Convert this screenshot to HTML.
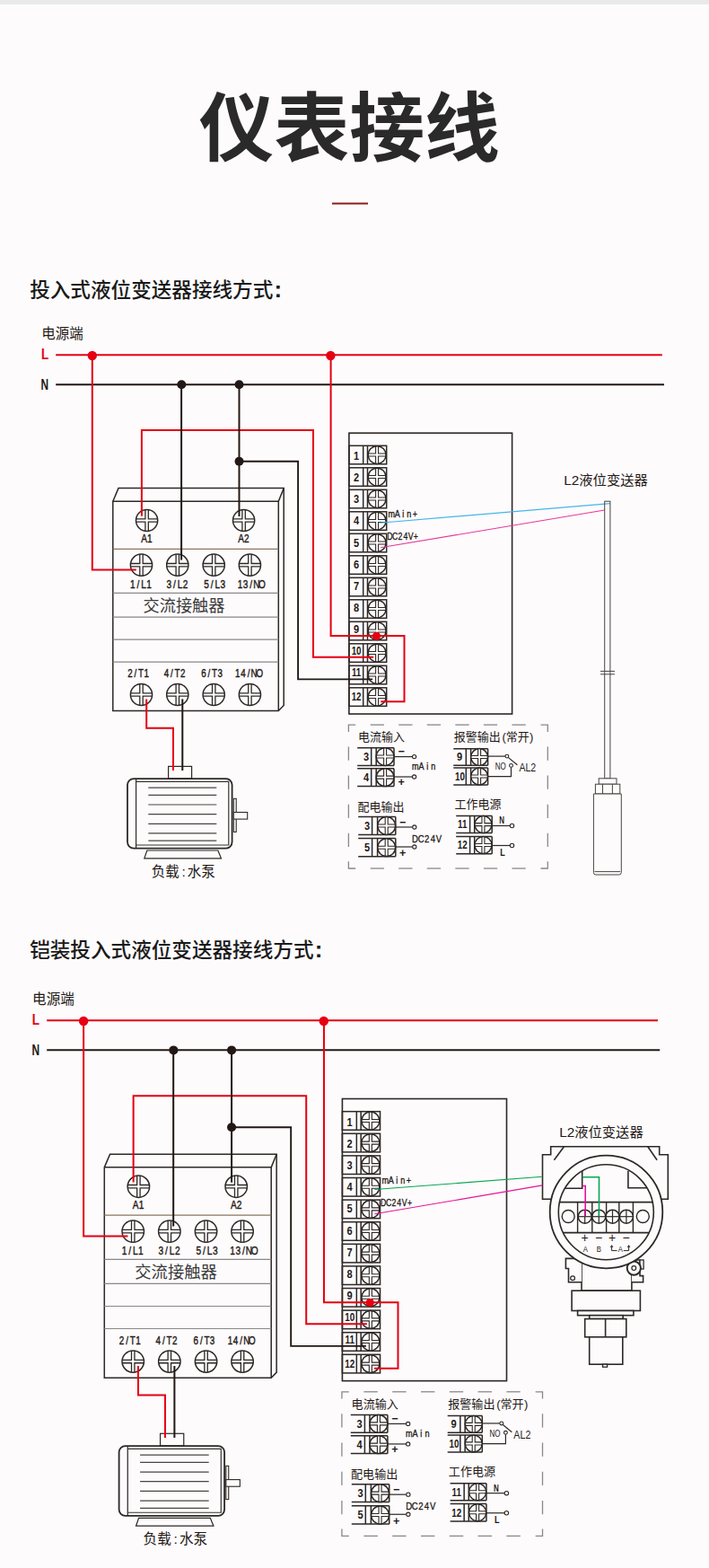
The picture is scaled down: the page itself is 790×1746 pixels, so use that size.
<!DOCTYPE html>
<html lang="zh-CN">
<head>
<meta charset="utf-8">
<title>仪表接线</title>
<style>
html,body{margin:0;padding:0;background:#fdfbfc;}
body{width:790px;height:1746px;overflow:hidden;position:relative;font-family:"Liberation Sans", "Noto Sans CJK SC", sans-serif;}
svg{position:absolute;left:0;top:0;display:block;}
svg text{font-family:"Liberation Sans", "Noto Sans CJK SC", sans-serif;}
</style>
</head>
<body>
<svg width="790" height="1746" viewBox="0 0 790 1746">
<rect x="0" y="0" width="790" height="1746" fill="#fdfbfc"/>
<rect x="0" y="0" width="790" height="4.9" fill="#e9e9e9"/>
<text x="389.2" y="173" font-size="83.8" fill="#2a2a2a" text-anchor="middle" font-weight="bold">仪表接线</text>
<rect x="370" y="225.6" width="40" height="2" fill="#8e1c1c"/>
<text x="33.2" y="330.6" font-size="22.6" fill="#1a1a1a" font-weight="500">投入式液位变送器接线方式<tspan dx="1.2" font-size="26" font-weight="bold">:</tspan></text>
<text x="33.2" y="1065.8" font-size="22.6" fill="#1a1a1a" font-weight="500">铠装投入式液位变送器接线方式<tspan dx="1.2" font-size="26" font-weight="bold">:</tspan></text>
<g id="d1">
<text x="46.2" y="377" font-size="15.5" fill="#231815">电源端</text><text transform="translate(46 399.8) scale(0.84 1)" font-size="16" fill="#e60012" font-weight="bold">L</text><text transform="translate(45.6 433.6) scale(0.74 1)" font-size="16" fill="#231815" font-weight="bold">N</text><line x1="62.2" y1="395.3" x2="737.8" y2="395.3" stroke="#e60012" stroke-width="2"/><line x1="62.2" y1="428.2" x2="740" y2="428.2" stroke="#231815" stroke-width="1.9"/><path d="M125.8 558.2L132 543.6L316.2 543.6L316.2 785.5L310.3 791.6L125.8 791.6Z" fill="#fdfbfc" stroke="#2e2826" stroke-width="1.5"/><path d="M125.8 558.2L310.3 558.2L310.3 791.6" fill="none" stroke="#2e2826" stroke-width="1.5"/><line x1="310.3" y1="558.2" x2="316.2" y2="543.6" stroke="#2e2826" stroke-width="1.5"/><line x1="125.8" y1="611.3" x2="310.3" y2="611.3" stroke="#8a7660" stroke-width="1.2"/><line x1="125.8" y1="660.4" x2="310.3" y2="660.4" stroke="#898989" stroke-width="1.2"/><line x1="125.8" y1="687.1" x2="310.3" y2="687.1" stroke="#898989" stroke-width="1.2"/><line x1="125.8" y1="712.2" x2="310.3" y2="712.2" stroke="#898989" stroke-width="1.2"/><line x1="125.8" y1="737.1" x2="310.3" y2="737.1" stroke="#898989" stroke-width="1.2"/><circle cx="163.6" cy="579.5" r="12.1" fill="#fefdfd" stroke="#2e2826" stroke-width="1.5"/><path d="M165.3 567.52L165.3 577.8L175.58 577.8M165.3 591.48L165.3 581.2L175.58 581.2M161.9 591.48L161.9 581.2L151.62 581.2M161.9 567.52L161.9 577.8L151.62 577.8" fill="none" stroke="#2e2826" stroke-width="1.3"/><circle cx="271.6" cy="579.5" r="12.1" fill="#fefdfd" stroke="#2e2826" stroke-width="1.5"/><path d="M273.3 567.52L273.3 577.8L283.58 577.8M273.3 591.48L273.3 581.2L283.58 581.2M269.9 591.48L269.9 581.2L259.62 581.2M269.9 567.52L269.9 577.8L259.62 577.8" fill="none" stroke="#2e2826" stroke-width="1.3"/><circle cx="157.5" cy="629.2" r="12.1" fill="#fefdfd" stroke="#2e2826" stroke-width="1.5"/><path d="M159.2 617.22L159.2 627.5L169.48 627.5M159.2 641.18L159.2 630.9L169.48 630.9M155.8 641.18L155.8 630.9L145.52 630.9M155.8 617.22L155.8 627.5L145.52 627.5" fill="none" stroke="#2e2826" stroke-width="1.3"/><circle cx="157.5" cy="773.5" r="12.1" fill="#fefdfd" stroke="#2e2826" stroke-width="1.5"/><path d="M159.2 761.52L159.2 771.8L169.48 771.8M159.2 785.48L159.2 775.2L169.48 775.2M155.8 785.48L155.8 775.2L145.52 775.2M155.8 761.52L155.8 771.8L145.52 771.8" fill="none" stroke="#2e2826" stroke-width="1.3"/><circle cx="197.8" cy="629.2" r="12.1" fill="#fefdfd" stroke="#2e2826" stroke-width="1.5"/><path d="M199.5 617.22L199.5 627.5L209.78 627.5M199.5 641.18L199.5 630.9L209.78 630.9M196.1 641.18L196.1 630.9L185.82 630.9M196.1 617.22L196.1 627.5L185.82 627.5" fill="none" stroke="#2e2826" stroke-width="1.3"/><circle cx="197.8" cy="773.5" r="12.1" fill="#fefdfd" stroke="#2e2826" stroke-width="1.5"/><path d="M199.5 761.52L199.5 771.8L209.78 771.8M199.5 785.48L199.5 775.2L209.78 775.2M196.1 785.48L196.1 775.2L185.82 775.2M196.1 761.52L196.1 771.8L185.82 771.8" fill="none" stroke="#2e2826" stroke-width="1.3"/><circle cx="238.2" cy="629.2" r="12.1" fill="#fefdfd" stroke="#2e2826" stroke-width="1.5"/><path d="M239.9 617.22L239.9 627.5L250.18 627.5M239.9 641.18L239.9 630.9L250.18 630.9M236.5 641.18L236.5 630.9L226.22 630.9M236.5 617.22L236.5 627.5L226.22 627.5" fill="none" stroke="#2e2826" stroke-width="1.3"/><circle cx="238.2" cy="773.5" r="12.1" fill="#fefdfd" stroke="#2e2826" stroke-width="1.5"/><path d="M239.9 761.52L239.9 771.8L250.18 771.8M239.9 785.48L239.9 775.2L250.18 775.2M236.5 785.48L236.5 775.2L226.22 775.2M236.5 761.52L236.5 771.8L226.22 771.8" fill="none" stroke="#2e2826" stroke-width="1.3"/><circle cx="278.4" cy="629.2" r="12.1" fill="#fefdfd" stroke="#2e2826" stroke-width="1.5"/><path d="M280.1 617.22L280.1 627.5L290.38 627.5M280.1 641.18L280.1 630.9L290.38 630.9M276.7 641.18L276.7 630.9L266.42 630.9M276.7 617.22L276.7 627.5L266.42 627.5" fill="none" stroke="#2e2826" stroke-width="1.3"/><circle cx="278.4" cy="773.5" r="12.1" fill="#fefdfd" stroke="#2e2826" stroke-width="1.5"/><path d="M280.1 761.52L280.1 771.8L290.38 771.8M280.1 785.48L280.1 775.2L290.38 775.2M276.7 785.48L276.7 775.2L266.42 775.2M276.7 761.52L276.7 771.8L266.42 771.8" fill="none" stroke="#2e2826" stroke-width="1.3"/><text transform="translate(160.5 604.4) scale(0.8 1)" x="0 7.75" y="0" text-anchor="middle" font-size="12.6" fill="#231815" stroke="#231815" stroke-width="0.4">A1</text><text transform="translate(268.7 604.4) scale(0.8 1)" x="0 7.75" y="0" text-anchor="middle" font-size="12.6" fill="#231815" stroke="#231815" stroke-width="0.4">A2</text><text transform="translate(147.85 655.3) scale(0.8 1)" x="0 7.62 15.25 22.87" y="0" text-anchor="middle" font-size="12.6" fill="#231815" stroke="#231815" stroke-width="0.4">1/L1</text><text transform="translate(188.35 655.3) scale(0.8 1)" x="0 7.62 15.25 22.87" y="0" text-anchor="middle" font-size="12.6" fill="#231815" stroke="#231815" stroke-width="0.4">3/L2</text><text transform="translate(230.05 655.3) scale(0.8 1)" x="0 7.62 15.25 22.87" y="0" text-anchor="middle" font-size="12.6" fill="#231815" stroke="#231815" stroke-width="0.4">5/L3</text><text transform="translate(267.5 655.3) scale(0.8 1)" x="0 7.62 15.25 22.87 30.5" y="0" text-anchor="middle" font-size="12.6" fill="#231815" stroke="#231815" stroke-width="0.4">13/NO</text><text transform="translate(144.85 754.4) scale(0.8 1)" x="0 7.62 15.25 22.87" y="0" text-anchor="middle" font-size="12.2" fill="#231815" stroke="#231815" stroke-width="0.4">2/T1</text><text transform="translate(185.35 754.4) scale(0.8 1)" x="0 7.62 15.25 22.87" y="0" text-anchor="middle" font-size="12.2" fill="#231815" stroke="#231815" stroke-width="0.4">4/T2</text><text transform="translate(226.85 754.4) scale(0.8 1)" x="0 7.62 15.25 22.87" y="0" text-anchor="middle" font-size="12.2" fill="#231815" stroke="#231815" stroke-width="0.4">6/T3</text><text transform="translate(264.8 754.4) scale(0.8 1)" x="0 7.62 15.25 22.87 30.5" y="0" text-anchor="middle" font-size="12.2" fill="#231815" stroke="#231815" stroke-width="0.4">14/NO</text><text x="205" y="680.6" font-size="18.2" fill="#3a3a3a" text-anchor="middle" font-family='"Liberation Serif", "Noto Serif CJK SC", serif'>交流接触器</text><rect x="388.9" y="482.2" width="181.7" height="312.8" fill="none" stroke="#2e2826" stroke-width="1.6"/><rect x="388.9" y="496.3" width="41.8" height="20.5" fill="none" stroke="#2e2826" stroke-width="1.5"/><line x1="404.7" y1="496.3" x2="404.7" y2="516.8" stroke="#2e2826" stroke-width="1.5"/><line x1="409.5" y1="496.3" x2="409.5" y2="516.8" stroke="#2e2826" stroke-width="1.5"/><circle cx="420.1" cy="506.55" r="9.9" fill="#fefdfd" stroke="#2e2826" stroke-width="1.5"/><path d="M421.6 496.76L421.6 505.05L429.89 505.05M421.6 516.34L421.6 508.05L429.89 508.05M418.6 516.34L418.6 508.05L410.31 508.05M418.6 496.76L418.6 505.05L410.31 505.05" fill="none" stroke="#2e2826" stroke-width="1.1"/><text transform="translate(397.1 512.1) scale(0.92 1)" font-size="12" fill="#231815" font-weight="bold" text-anchor="middle">1</text><rect x="388.9" y="520.8" width="41.8" height="20.5" fill="none" stroke="#2e2826" stroke-width="1.5"/><line x1="404.7" y1="520.8" x2="404.7" y2="541.3" stroke="#2e2826" stroke-width="1.5"/><line x1="409.5" y1="520.8" x2="409.5" y2="541.3" stroke="#2e2826" stroke-width="1.5"/><circle cx="420.1" cy="531.05" r="9.9" fill="#fefdfd" stroke="#2e2826" stroke-width="1.5"/><path d="M421.6 521.26L421.6 529.55L429.89 529.55M421.6 540.84L421.6 532.55L429.89 532.55M418.6 540.84L418.6 532.55L410.31 532.55M418.6 521.26L418.6 529.55L410.31 529.55" fill="none" stroke="#2e2826" stroke-width="1.1"/><text transform="translate(397.1 536.2) scale(0.92 1)" font-size="12" fill="#231815" font-weight="bold" text-anchor="middle">2</text><rect x="388.9" y="545.3" width="41.8" height="20.5" fill="none" stroke="#2e2826" stroke-width="1.5"/><line x1="404.7" y1="545.3" x2="404.7" y2="565.8" stroke="#2e2826" stroke-width="1.5"/><line x1="409.5" y1="545.3" x2="409.5" y2="565.8" stroke="#2e2826" stroke-width="1.5"/><circle cx="420.1" cy="555.55" r="9.9" fill="#fefdfd" stroke="#2e2826" stroke-width="1.5"/><path d="M421.6 545.76L421.6 554.05L429.89 554.05M421.6 565.34L421.6 557.05L429.89 557.05M418.6 565.34L418.6 557.05L410.31 557.05M418.6 545.76L418.6 554.05L410.31 554.05" fill="none" stroke="#2e2826" stroke-width="1.1"/><text transform="translate(397.1 560.3) scale(0.92 1)" font-size="12" fill="#231815" font-weight="bold" text-anchor="middle">3</text><rect x="388.9" y="569.8" width="41.8" height="20.5" fill="none" stroke="#2e2826" stroke-width="1.5"/><line x1="404.7" y1="569.8" x2="404.7" y2="590.3" stroke="#2e2826" stroke-width="1.5"/><line x1="409.5" y1="569.8" x2="409.5" y2="590.3" stroke="#2e2826" stroke-width="1.5"/><circle cx="420.1" cy="580.05" r="9.9" fill="#fefdfd" stroke="#2e2826" stroke-width="1.5"/><path d="M421.6 570.26L421.6 578.55L429.89 578.55M421.6 589.84L421.6 581.55L429.89 581.55M418.6 589.84L418.6 581.55L410.31 581.55M418.6 570.26L418.6 578.55L410.31 578.55" fill="none" stroke="#2e2826" stroke-width="1.1"/><text transform="translate(397.1 584.4) scale(0.92 1)" font-size="12" fill="#231815" font-weight="bold" text-anchor="middle">4</text><rect x="388.9" y="594.3" width="41.8" height="20.5" fill="none" stroke="#2e2826" stroke-width="1.5"/><line x1="404.7" y1="594.3" x2="404.7" y2="614.8" stroke="#2e2826" stroke-width="1.5"/><line x1="409.5" y1="594.3" x2="409.5" y2="614.8" stroke="#2e2826" stroke-width="1.5"/><circle cx="420.1" cy="604.55" r="9.9" fill="#fefdfd" stroke="#2e2826" stroke-width="1.5"/><path d="M421.6 594.76L421.6 603.05L429.89 603.05M421.6 614.34L421.6 606.05L429.89 606.05M418.6 614.34L418.6 606.05L410.31 606.05M418.6 594.76L418.6 603.05L410.31 603.05" fill="none" stroke="#2e2826" stroke-width="1.1"/><text transform="translate(397.1 608.5) scale(0.92 1)" font-size="12" fill="#231815" font-weight="bold" text-anchor="middle">5</text><rect x="388.9" y="618.8" width="41.8" height="20.5" fill="none" stroke="#2e2826" stroke-width="1.5"/><line x1="404.7" y1="618.8" x2="404.7" y2="639.3" stroke="#2e2826" stroke-width="1.5"/><line x1="409.5" y1="618.8" x2="409.5" y2="639.3" stroke="#2e2826" stroke-width="1.5"/><circle cx="420.1" cy="629.05" r="9.9" fill="#fefdfd" stroke="#2e2826" stroke-width="1.5"/><path d="M421.6 619.26L421.6 627.55L429.89 627.55M421.6 638.84L421.6 630.55L429.89 630.55M418.6 638.84L418.6 630.55L410.31 630.55M418.6 619.26L418.6 627.55L410.31 627.55" fill="none" stroke="#2e2826" stroke-width="1.1"/><text transform="translate(397.1 632.6) scale(0.92 1)" font-size="12" fill="#231815" font-weight="bold" text-anchor="middle">6</text><rect x="388.9" y="643.3" width="41.8" height="20.5" fill="none" stroke="#2e2826" stroke-width="1.5"/><line x1="404.7" y1="643.3" x2="404.7" y2="663.8" stroke="#2e2826" stroke-width="1.5"/><line x1="409.5" y1="643.3" x2="409.5" y2="663.8" stroke="#2e2826" stroke-width="1.5"/><circle cx="420.1" cy="653.55" r="9.9" fill="#fefdfd" stroke="#2e2826" stroke-width="1.5"/><path d="M421.6 643.76L421.6 652.05L429.89 652.05M421.6 663.34L421.6 655.05L429.89 655.05M418.6 663.34L418.6 655.05L410.31 655.05M418.6 643.76L418.6 652.05L410.31 652.05" fill="none" stroke="#2e2826" stroke-width="1.1"/><text transform="translate(397.1 656.7) scale(0.92 1)" font-size="12" fill="#231815" font-weight="bold" text-anchor="middle">7</text><rect x="388.9" y="667.8" width="41.8" height="20.5" fill="none" stroke="#2e2826" stroke-width="1.5"/><line x1="404.7" y1="667.8" x2="404.7" y2="688.3" stroke="#2e2826" stroke-width="1.5"/><line x1="409.5" y1="667.8" x2="409.5" y2="688.3" stroke="#2e2826" stroke-width="1.5"/><circle cx="420.1" cy="678.05" r="9.9" fill="#fefdfd" stroke="#2e2826" stroke-width="1.5"/><path d="M421.6 668.26L421.6 676.55L429.89 676.55M421.6 687.84L421.6 679.55L429.89 679.55M418.6 687.84L418.6 679.55L410.31 679.55M418.6 668.26L418.6 676.55L410.31 676.55" fill="none" stroke="#2e2826" stroke-width="1.1"/><text transform="translate(397.1 680.8) scale(0.92 1)" font-size="12" fill="#231815" font-weight="bold" text-anchor="middle">8</text><rect x="388.9" y="692.3" width="41.8" height="20.5" fill="none" stroke="#2e2826" stroke-width="1.5"/><line x1="404.7" y1="692.3" x2="404.7" y2="712.8" stroke="#2e2826" stroke-width="1.5"/><line x1="409.5" y1="692.3" x2="409.5" y2="712.8" stroke="#2e2826" stroke-width="1.5"/><circle cx="420.1" cy="702.55" r="9.9" fill="#fefdfd" stroke="#2e2826" stroke-width="1.5"/><path d="M421.6 692.76L421.6 701.05L429.89 701.05M421.6 712.34L421.6 704.05L429.89 704.05M418.6 712.34L418.6 704.05L410.31 704.05M418.6 692.76L418.6 701.05L410.31 701.05" fill="none" stroke="#2e2826" stroke-width="1.1"/><text transform="translate(397.1 704.9) scale(0.92 1)" font-size="12" fill="#231815" font-weight="bold" text-anchor="middle">9</text><rect x="388.9" y="716.8" width="41.8" height="20.5" fill="none" stroke="#2e2826" stroke-width="1.5"/><line x1="404.7" y1="716.8" x2="404.7" y2="737.3" stroke="#2e2826" stroke-width="1.5"/><line x1="409.5" y1="716.8" x2="409.5" y2="737.3" stroke="#2e2826" stroke-width="1.5"/><circle cx="420.1" cy="727.05" r="9.9" fill="#fefdfd" stroke="#2e2826" stroke-width="1.5"/><path d="M421.6 717.26L421.6 725.55L429.89 725.55M421.6 736.84L421.6 728.55L429.89 728.55M418.6 736.84L418.6 728.55L410.31 728.55M418.6 717.26L418.6 725.55L410.31 725.55" fill="none" stroke="#2e2826" stroke-width="1.1"/><text transform="translate(397.1 729) scale(0.82 1)" font-size="12" fill="#231815" font-weight="bold" text-anchor="middle">10</text><rect x="388.9" y="741.3" width="41.8" height="20.5" fill="none" stroke="#2e2826" stroke-width="1.5"/><line x1="404.7" y1="741.3" x2="404.7" y2="761.8" stroke="#2e2826" stroke-width="1.5"/><line x1="409.5" y1="741.3" x2="409.5" y2="761.8" stroke="#2e2826" stroke-width="1.5"/><circle cx="420.1" cy="751.55" r="9.9" fill="#fefdfd" stroke="#2e2826" stroke-width="1.5"/><path d="M421.6 741.76L421.6 750.05L429.89 750.05M421.6 761.34L421.6 753.05L429.89 753.05M418.6 761.34L418.6 753.05L410.31 753.05M418.6 741.76L418.6 750.05L410.31 750.05" fill="none" stroke="#2e2826" stroke-width="1.1"/><text transform="translate(397.1 753.1) scale(0.82 1)" font-size="12" fill="#231815" font-weight="bold" text-anchor="middle">11</text><rect x="388.9" y="765.8" width="41.8" height="20.5" fill="none" stroke="#2e2826" stroke-width="1.5"/><line x1="404.7" y1="765.8" x2="404.7" y2="786.3" stroke="#2e2826" stroke-width="1.5"/><line x1="409.5" y1="765.8" x2="409.5" y2="786.3" stroke="#2e2826" stroke-width="1.5"/><circle cx="420.1" cy="776.05" r="9.9" fill="#fefdfd" stroke="#2e2826" stroke-width="1.5"/><path d="M421.6 766.26L421.6 774.55L429.89 774.55M421.6 785.84L421.6 777.55L429.89 777.55M418.6 785.84L418.6 777.55L410.31 777.55M418.6 766.26L418.6 774.55L410.31 774.55" fill="none" stroke="#2e2826" stroke-width="1.1"/><text transform="translate(397.1 780.4) scale(0.82 1)" font-size="12" fill="#231815" font-weight="bold" text-anchor="middle">12</text><text transform="translate(436.3 576.2) scale(0.9 1)" x="0 7.22 14.44 21.67 28.89" y="0" text-anchor="middle" font-size="10" fill="#231815" stroke="#231815" stroke-width="0.3">mAin+</text><text transform="translate(434.4 600.8) scale(0.82 1)" x="0 7.07 14.15 21.22 28.29 35.37" y="0" text-anchor="middle" font-size="10.6" fill="#231815" stroke="#231815" stroke-width="0.3">DC24V+</text><path d="M388.4 814.9L388.4 807.1L396.2 807.1" fill="none" stroke="#898989" stroke-width="1.3"/><path d="M602.5 807.1L610.3 807.1L610.3 814.9" fill="none" stroke="#898989" stroke-width="1.3"/><path d="M388.4 959.2L388.4 967L396.2 967" fill="none" stroke="#898989" stroke-width="1.3"/><path d="M602.5 967L610.3 967L610.3 959.2" fill="none" stroke="#898989" stroke-width="1.3"/><line x1="412.7" y1="807.1" x2="428" y2="807.1" stroke="#898989" stroke-width="1.3"/><line x1="412.7" y1="967" x2="428" y2="967" stroke="#898989" stroke-width="1.3"/><line x1="444.25" y1="807.1" x2="459.55" y2="807.1" stroke="#898989" stroke-width="1.3"/><line x1="444.25" y1="967" x2="459.55" y2="967" stroke="#898989" stroke-width="1.3"/><line x1="475.8" y1="807.1" x2="491.1" y2="807.1" stroke="#898989" stroke-width="1.3"/><line x1="475.8" y1="967" x2="491.1" y2="967" stroke="#898989" stroke-width="1.3"/><line x1="507.35" y1="807.1" x2="522.65" y2="807.1" stroke="#898989" stroke-width="1.3"/><line x1="507.35" y1="967" x2="522.65" y2="967" stroke="#898989" stroke-width="1.3"/><line x1="538.9" y1="807.1" x2="554.2" y2="807.1" stroke="#898989" stroke-width="1.3"/><line x1="538.9" y1="967" x2="554.2" y2="967" stroke="#898989" stroke-width="1.3"/><line x1="570.45" y1="807.1" x2="585.75" y2="807.1" stroke="#898989" stroke-width="1.3"/><line x1="570.45" y1="967" x2="585.75" y2="967" stroke="#898989" stroke-width="1.3"/><line x1="388.4" y1="831.5" x2="388.4" y2="846.7" stroke="#898989" stroke-width="1.3"/><line x1="610.3" y1="831.5" x2="610.3" y2="846.7" stroke="#898989" stroke-width="1.3"/><line x1="388.4" y1="863.6" x2="388.4" y2="878.8" stroke="#898989" stroke-width="1.3"/><line x1="610.3" y1="863.6" x2="610.3" y2="878.8" stroke="#898989" stroke-width="1.3"/><line x1="388.4" y1="895.7" x2="388.4" y2="910.9" stroke="#898989" stroke-width="1.3"/><line x1="610.3" y1="895.7" x2="610.3" y2="910.9" stroke="#898989" stroke-width="1.3"/><line x1="388.4" y1="927.8" x2="388.4" y2="943" stroke="#898989" stroke-width="1.3"/><line x1="610.3" y1="927.8" x2="610.3" y2="943" stroke="#898989" stroke-width="1.3"/><text x="399" y="825.2" font-size="13" fill="#231815">电流输入</text><line x1="398.2" y1="832.7" x2="439" y2="832.7" stroke="#2e2826" stroke-width="1.5"/><line x1="398.2" y1="852.4" x2="439" y2="852.4" stroke="#2e2826" stroke-width="1.5"/><line x1="439" y1="832.7" x2="439" y2="852.4" stroke="#2e2826" stroke-width="1.5"/><line x1="413.7" y1="832.7" x2="413.7" y2="852.4" stroke="#2e2826" stroke-width="1.5"/><line x1="419.2" y1="832.7" x2="419.2" y2="852.4" stroke="#2e2826" stroke-width="1.5"/><circle cx="429.1" cy="842.55" r="9.9" fill="#fefdfd" stroke="#2e2826" stroke-width="1.5"/><path d="M430.6 832.76L430.6 841.05L438.89 841.05M430.6 852.34L430.6 844.05L438.89 844.05M427.6 852.34L427.6 844.05L419.31 844.05M427.6 832.76L427.6 841.05L419.31 841.05" fill="none" stroke="#2e2826" stroke-width="1.1"/><text transform="translate(408.05 846.85) scale(0.92 1)" font-size="12" fill="#231815" font-weight="bold" text-anchor="middle">3</text><line x1="398.2" y1="855.8" x2="439" y2="855.8" stroke="#2e2826" stroke-width="1.5"/><line x1="398.2" y1="875.5" x2="439" y2="875.5" stroke="#2e2826" stroke-width="1.5"/><line x1="439" y1="855.8" x2="439" y2="875.5" stroke="#2e2826" stroke-width="1.5"/><line x1="413.7" y1="855.8" x2="413.7" y2="875.5" stroke="#2e2826" stroke-width="1.5"/><line x1="419.2" y1="855.8" x2="419.2" y2="875.5" stroke="#2e2826" stroke-width="1.5"/><circle cx="429.1" cy="865.65" r="9.9" fill="#fefdfd" stroke="#2e2826" stroke-width="1.5"/><path d="M430.6 855.86L430.6 864.15L438.89 864.15M430.6 875.44L430.6 867.15L438.89 867.15M427.6 875.44L427.6 867.15L419.31 867.15M427.6 855.86L427.6 864.15L419.31 864.15" fill="none" stroke="#2e2826" stroke-width="1.1"/><text transform="translate(408.05 869.95) scale(0.92 1)" font-size="12" fill="#231815" font-weight="bold" text-anchor="middle">4</text><line x1="439" y1="842.6" x2="459.4" y2="842.6" stroke="#2e2826" stroke-width="1.2"/><circle cx="461.6" cy="842.6" r="2.1" fill="#fff" stroke="#2e2826" stroke-width="1.1"/><line x1="439" y1="865" x2="459.4" y2="865" stroke="#2e2826" stroke-width="1.2"/><circle cx="461.6" cy="865" r="2.1" fill="#fff" stroke="#2e2826" stroke-width="1.1"/><text x="447.1" y="841.2" font-size="12.5" fill="#231815" text-anchor="middle" font-weight="bold">−</text><text x="447.1" y="875.4" font-size="12.5" fill="#231815" text-anchor="middle" font-weight="bold">+</text><text transform="translate(462.75 857.2) scale(0.9 1)" x="0 7.44 14.89 22.33" y="0" text-anchor="middle" font-size="10" fill="#231815" stroke="#231815" stroke-width="0.3">mAin</text><text x="398.4" y="903.4" font-size="13" fill="#231815">配电输出</text><line x1="399.2" y1="909.6" x2="440.8" y2="909.6" stroke="#2e2826" stroke-width="1.5"/><line x1="399.2" y1="929.4" x2="440.8" y2="929.4" stroke="#2e2826" stroke-width="1.5"/><line x1="440.8" y1="909.6" x2="440.8" y2="929.4" stroke="#2e2826" stroke-width="1.5"/><line x1="414.6" y1="909.6" x2="414.6" y2="929.4" stroke="#2e2826" stroke-width="1.5"/><line x1="420.6" y1="909.6" x2="420.6" y2="929.4" stroke="#2e2826" stroke-width="1.5"/><circle cx="430.7" cy="919.5" r="9.9" fill="#fefdfd" stroke="#2e2826" stroke-width="1.5"/><path d="M432.2 909.71L432.2 918L440.49 918M432.2 929.29L432.2 921L440.49 921M429.2 929.29L429.2 921L420.91 921M429.2 909.71L429.2 918L420.91 918" fill="none" stroke="#2e2826" stroke-width="1.1"/><text transform="translate(409 923.8) scale(0.92 1)" font-size="12" fill="#231815" font-weight="bold" text-anchor="middle">3</text><line x1="399.2" y1="933.6" x2="440.8" y2="933.6" stroke="#2e2826" stroke-width="1.5"/><line x1="399.2" y1="953.8" x2="440.8" y2="953.8" stroke="#2e2826" stroke-width="1.5"/><line x1="440.8" y1="933.6" x2="440.8" y2="953.8" stroke="#2e2826" stroke-width="1.5"/><line x1="414.6" y1="933.6" x2="414.6" y2="953.8" stroke="#2e2826" stroke-width="1.5"/><line x1="420.6" y1="933.6" x2="420.6" y2="953.8" stroke="#2e2826" stroke-width="1.5"/><circle cx="430.7" cy="943.7" r="9.9" fill="#fefdfd" stroke="#2e2826" stroke-width="1.5"/><path d="M432.2 933.91L432.2 942.2L440.49 942.2M432.2 953.49L432.2 945.2L440.49 945.2M429.2 953.49L429.2 945.2L420.91 945.2M429.2 933.91L429.2 942.2L420.91 942.2" fill="none" stroke="#2e2826" stroke-width="1.1"/><text transform="translate(409 948) scale(0.92 1)" font-size="12" fill="#231815" font-weight="bold" text-anchor="middle">5</text><line x1="440.8" y1="921" x2="459.6" y2="921" stroke="#2e2826" stroke-width="1.2"/><circle cx="461.8" cy="921" r="2.1" fill="#fff" stroke="#2e2826" stroke-width="1.1"/><line x1="440.8" y1="943" x2="459.6" y2="943" stroke="#2e2826" stroke-width="1.2"/><circle cx="461.8" cy="943" r="2.1" fill="#fff" stroke="#2e2826" stroke-width="1.1"/><text x="448.7" y="919.7" font-size="12.5" fill="#231815" text-anchor="middle" font-weight="bold">−</text><text x="448.7" y="954.2" font-size="12.5" fill="#231815" text-anchor="middle" font-weight="bold">+</text><text transform="translate(462.5 937.8) scale(0.85 1)" x="0 7.76 15.53 23.29 31.06" y="0" text-anchor="middle" font-size="11.2" fill="#231815" stroke="#231815" stroke-width="0.3">DC24V</text><text x="505.8" y="825.2" font-size="13" fill="#231815">报警输出<tspan dx="1.6">(</tspan>常开<tspan dx="0.2">)</tspan></text><line x1="505.3" y1="833.7" x2="543.6" y2="833.7" stroke="#2e2826" stroke-width="1.5"/><line x1="505.3" y1="852.3" x2="543.6" y2="852.3" stroke="#2e2826" stroke-width="1.5"/><line x1="543.6" y1="833.7" x2="543.6" y2="852.3" stroke="#2e2826" stroke-width="1.5"/><line x1="519.3" y1="833.7" x2="519.3" y2="852.3" stroke="#2e2826" stroke-width="1.5"/><line x1="524.6" y1="833.7" x2="524.6" y2="852.3" stroke="#2e2826" stroke-width="1.5"/><circle cx="534.1" cy="843" r="9.4" fill="#fefdfd" stroke="#2e2826" stroke-width="1.5"/><path d="M535.6 833.72L535.6 841.5L543.38 841.5M535.6 852.28L535.6 844.5L543.38 844.5M532.6 852.28L532.6 844.5L524.82 844.5M532.6 833.72L532.6 841.5L524.82 841.5" fill="none" stroke="#2e2826" stroke-width="1.1"/><text transform="translate(512.1 847.3) scale(0.92 1)" font-size="12" fill="#231815" font-weight="bold" text-anchor="middle">9</text><line x1="505.3" y1="855" x2="543.6" y2="855" stroke="#2e2826" stroke-width="1.5"/><line x1="505.3" y1="874" x2="543.6" y2="874" stroke="#2e2826" stroke-width="1.5"/><line x1="543.6" y1="855" x2="543.6" y2="874" stroke="#2e2826" stroke-width="1.5"/><line x1="519.3" y1="855" x2="519.3" y2="874" stroke="#2e2826" stroke-width="1.5"/><line x1="524.6" y1="855" x2="524.6" y2="874" stroke="#2e2826" stroke-width="1.5"/><circle cx="534.1" cy="864.5" r="9.4" fill="#fefdfd" stroke="#2e2826" stroke-width="1.5"/><path d="M535.6 855.22L535.6 863L543.38 863M535.6 873.78L535.6 866L543.38 866M532.6 873.78L532.6 866L524.82 866M532.6 855.22L532.6 863L524.82 863" fill="none" stroke="#2e2826" stroke-width="1.1"/><text transform="translate(512.5 868.8) scale(0.82 1)" font-size="12" fill="#231815" font-weight="bold" text-anchor="middle">10</text><line x1="543.6" y1="842.1" x2="563" y2="842.1" stroke="#2e2826" stroke-width="1.2"/><circle cx="564.9" cy="842.1" r="1.9" fill="#fff" stroke="#2e2826" stroke-width="1.1"/><line x1="566.2" y1="843.4" x2="576.4" y2="851.8" stroke="#2e2826" stroke-width="1.2"/><circle cx="569.5" cy="852.4" r="1.9" fill="#fff" stroke="#2e2826" stroke-width="1.1"/><path d="M569.5 854.4L569.5 864.6L543.6 864.6" fill="none" stroke="#2e2826" stroke-width="1.2"/><text transform="translate(551.8 856.7) scale(0.78 1)" font-size="10.2" fill="#231815">NO</text><text transform="translate(578.4 858.6) scale(0.88 1)" font-size="12" fill="#231815">AL2</text><text x="506.4" y="899.8" font-size="13" fill="#231815">工作电源</text><line x1="508.2" y1="908.6" x2="548.2" y2="908.6" stroke="#2e2826" stroke-width="1.5"/><line x1="508.2" y1="927.6" x2="548.2" y2="927.6" stroke="#2e2826" stroke-width="1.5"/><line x1="548.2" y1="908.6" x2="548.2" y2="927.6" stroke="#2e2826" stroke-width="1.5"/><line x1="523.6" y1="908.6" x2="523.6" y2="927.6" stroke="#2e2826" stroke-width="1.5"/><line x1="528.7" y1="908.6" x2="528.7" y2="927.6" stroke="#2e2826" stroke-width="1.5"/><circle cx="538.45" cy="918.1" r="9.5" fill="#fefdfd" stroke="#2e2826" stroke-width="1.5"/><path d="M539.95 908.72L539.95 916.6L547.83 916.6M539.95 927.48L539.95 919.6L547.83 919.6M536.95 927.48L536.95 919.6L529.07 919.6M536.95 908.72L536.95 916.6L529.07 916.6" fill="none" stroke="#2e2826" stroke-width="1.1"/><text transform="translate(515.2 922.4) scale(0.82 1)" font-size="12" fill="#231815" font-weight="bold" text-anchor="middle">11</text><line x1="508.2" y1="931.4" x2="548.2" y2="931.4" stroke="#2e2826" stroke-width="1.5"/><line x1="508.2" y1="950.7" x2="548.2" y2="950.7" stroke="#2e2826" stroke-width="1.5"/><line x1="548.2" y1="931.4" x2="548.2" y2="950.7" stroke="#2e2826" stroke-width="1.5"/><line x1="523.6" y1="931.4" x2="523.6" y2="950.7" stroke="#2e2826" stroke-width="1.5"/><line x1="528.7" y1="931.4" x2="528.7" y2="950.7" stroke="#2e2826" stroke-width="1.5"/><circle cx="538.45" cy="941.05" r="9.5" fill="#fefdfd" stroke="#2e2826" stroke-width="1.5"/><path d="M539.95 931.67L539.95 939.55L547.83 939.55M539.95 950.43L539.95 942.55L547.83 942.55M536.95 950.43L536.95 942.55L529.07 942.55M536.95 931.67L536.95 939.55L529.07 939.55" fill="none" stroke="#2e2826" stroke-width="1.1"/><text transform="translate(515.2 945.35) scale(0.82 1)" font-size="12" fill="#231815" font-weight="bold" text-anchor="middle">12</text><line x1="548.2" y1="919.5" x2="568.3" y2="919.5" stroke="#2e2826" stroke-width="1.2"/><circle cx="570.5" cy="919.5" r="2.2" fill="#fff" stroke="#2e2826" stroke-width="1.1"/><line x1="548.2" y1="941.5" x2="568.3" y2="941.5" stroke="#2e2826" stroke-width="1.2"/><circle cx="570.5" cy="941.5" r="2.2" fill="#fff" stroke="#2e2826" stroke-width="1.1"/><text transform="translate(556.3 917.4) scale(0.8 1)" font-size="10" fill="#231815" font-weight="bold">N</text><text transform="translate(557.2 952.7) scale(0.85 1)" font-size="10.6" fill="#231815" font-weight="bold">L</text><rect x="187.6" y="853.4" width="26" height="13.6" fill="#fdfbfc" stroke="#2e2826" stroke-width="1.2"/><rect x="142" y="867.1" width="116.6" height="77.5" fill="#fdfbfc" stroke="#2e2826" stroke-width="1.8" rx="7"/><path d="M151.6 867.8L151.6 944" fill="none" stroke="#3a3330" stroke-width="1.3"/><path d="M151.6 870.4L254.8 870.4L254.8 941L151.6 941" fill="none" stroke="#3a3330" stroke-width="1.2"/><line x1="165.3" y1="877.1" x2="241.3" y2="877.1" stroke="#4a4441" stroke-width="1.2"/><line x1="165.3" y1="885.3" x2="241.3" y2="885.3" stroke="#4a4441" stroke-width="1.2"/><line x1="165.3" y1="896" x2="241.3" y2="896" stroke="#4a4441" stroke-width="1.2"/><line x1="165.3" y1="906.6" x2="241.3" y2="906.6" stroke="#4a4441" stroke-width="1.2"/><line x1="165.3" y1="917.3" x2="241.3" y2="917.3" stroke="#4a4441" stroke-width="1.2"/><line x1="165.3" y1="927.9" x2="241.3" y2="927.9" stroke="#4a4441" stroke-width="1.2"/><line x1="165.3" y1="936.1" x2="241.3" y2="936.1" stroke="#4a4441" stroke-width="1.2"/><rect x="260.3" y="889.3" width="2.9" height="37.1" fill="none" stroke="#2e2826" stroke-width="1.1"/><rect x="260.3" y="904.5" width="15.4" height="7.6" fill="#fdfbfc" stroke="#2e2826" stroke-width="1.1"/><path d="M163.8 947L242.9 947L246.5 955.9L160.8 955.9Z" fill="none" stroke="#2e2826" stroke-width="1.2"/><text x="168.8" y="976" font-size="15.5" fill="#231815">负载<tspan dx="2.6">:</tspan><tspan dx="2.1">水泵</tspan></text><path d="M102.8 395.4L102.8 634.6L151.8 634.6" fill="none" stroke="#e60012" stroke-width="2"/><path d="M157.9 574.8L157.9 479L349 479L349 731.8L416.2 731.8" fill="none" stroke="#e60012" stroke-width="2"/><path d="M368.6 395.4L368.6 708L450.5 708L450.5 781.2L424.3 781.2" fill="none" stroke="#e60012" stroke-width="2"/><path d="M202.1 428.2L202.1 623.6" fill="none" stroke="#231815" stroke-width="2"/><path d="M266.5 428.2L266.5 575" fill="none" stroke="#231815" stroke-width="2"/><path d="M266.5 513.8L332.1 513.8L332.1 756.4L415.2 756.4" fill="none" stroke="#231815" stroke-width="1.9"/><path d="M163.2 778.4L163.2 810.8L193 810.8L193 858" fill="none" stroke="#e60012" stroke-width="2"/><path d="M203.3 778.4L203.3 858" fill="none" stroke="#231815" stroke-width="2"/><circle cx="102.8" cy="396" r="5.2" fill="#e60012" stroke="none" stroke-width="0"/><circle cx="368.4" cy="396" r="5.2" fill="#e60012" stroke="none" stroke-width="0"/><circle cx="202.3" cy="428.3" r="5" fill="#231815" stroke="none" stroke-width="0"/><circle cx="266.5" cy="428.3" r="5" fill="#231815" stroke="none" stroke-width="0"/><circle cx="266.5" cy="513.8" r="5" fill="#231815" stroke="none" stroke-width="0"/><circle cx="419.5" cy="708.3" r="4.6" fill="#e60012" stroke="none" stroke-width="0"/><text x="628.3" y="540.2" font-size="15.3" fill="#231815">L2液位变送器</text><line x1="423.6" y1="582.2" x2="680" y2="560.6" stroke="#45b5e8" stroke-width="1.1"/><line x1="424" y1="609.8" x2="673.6" y2="568" stroke="#e5399b" stroke-width="1.1"/><rect x="673.7" y="558.2" width="6.2" height="308.6" fill="none" stroke="#4a4340" stroke-width="1.0"/><line x1="669" y1="747.4" x2="685" y2="747.4" stroke="#4a4340" stroke-width="1.0"/><line x1="669" y1="750.8" x2="685" y2="750.8" stroke="#4a4340" stroke-width="1.0"/><rect x="667.2" y="866.8" width="19.8" height="6.4" fill="#fdfbfc" stroke="#4a4340" stroke-width="1.0"/><rect x="663.4" y="873.2" width="27.4" height="10.8" fill="#fdfbfc" stroke="#4a4340" stroke-width="1.0"/><line x1="671.5" y1="873.2" x2="671.5" y2="884" stroke="#4a4340" stroke-width="1.0"/><line x1="682.4" y1="873.2" x2="682.4" y2="884" stroke="#4a4340" stroke-width="1.0"/><path d="M661.4 884H692.3V971.5Q692.3 974 689.8 974H663.9Q661.4 974 661.4 971.5Z" fill="#fdfbfc" stroke="#4a4340" stroke-width="1.0"/><line x1="662.5" y1="970.6" x2="691.2" y2="970.6" stroke="#4a4340" stroke-width="1.0"/>
</g>
<g id="d2" transform="translate(-10.48 739.3) scale(1.0077 1.0042)">
<text x="46.2" y="377" font-size="15.5" fill="#231815">电源端</text><text transform="translate(46 399.8) scale(0.84 1)" font-size="16" fill="#e60012" font-weight="bold">L</text><text transform="translate(45.6 433.6) scale(0.74 1)" font-size="16" fill="#231815" font-weight="bold">N</text><line x1="62.2" y1="395.3" x2="737.8" y2="395.3" stroke="#e60012" stroke-width="2"/><line x1="62.2" y1="428.2" x2="740" y2="428.2" stroke="#231815" stroke-width="1.9"/><path d="M125.8 558.2L132 543.6L316.2 543.6L316.2 785.5L310.3 791.6L125.8 791.6Z" fill="#fdfbfc" stroke="#2e2826" stroke-width="1.5"/><path d="M125.8 558.2L310.3 558.2L310.3 791.6" fill="none" stroke="#2e2826" stroke-width="1.5"/><line x1="310.3" y1="558.2" x2="316.2" y2="543.6" stroke="#2e2826" stroke-width="1.5"/><line x1="125.8" y1="611.3" x2="310.3" y2="611.3" stroke="#8a7660" stroke-width="1.2"/><line x1="125.8" y1="660.4" x2="310.3" y2="660.4" stroke="#898989" stroke-width="1.2"/><line x1="125.8" y1="687.1" x2="310.3" y2="687.1" stroke="#898989" stroke-width="1.2"/><line x1="125.8" y1="712.2" x2="310.3" y2="712.2" stroke="#898989" stroke-width="1.2"/><line x1="125.8" y1="737.1" x2="310.3" y2="737.1" stroke="#898989" stroke-width="1.2"/><circle cx="163.6" cy="579.5" r="12.1" fill="#fefdfd" stroke="#2e2826" stroke-width="1.5"/><path d="M165.3 567.52L165.3 577.8L175.58 577.8M165.3 591.48L165.3 581.2L175.58 581.2M161.9 591.48L161.9 581.2L151.62 581.2M161.9 567.52L161.9 577.8L151.62 577.8" fill="none" stroke="#2e2826" stroke-width="1.3"/><circle cx="271.6" cy="579.5" r="12.1" fill="#fefdfd" stroke="#2e2826" stroke-width="1.5"/><path d="M273.3 567.52L273.3 577.8L283.58 577.8M273.3 591.48L273.3 581.2L283.58 581.2M269.9 591.48L269.9 581.2L259.62 581.2M269.9 567.52L269.9 577.8L259.62 577.8" fill="none" stroke="#2e2826" stroke-width="1.3"/><circle cx="157.5" cy="629.2" r="12.1" fill="#fefdfd" stroke="#2e2826" stroke-width="1.5"/><path d="M159.2 617.22L159.2 627.5L169.48 627.5M159.2 641.18L159.2 630.9L169.48 630.9M155.8 641.18L155.8 630.9L145.52 630.9M155.8 617.22L155.8 627.5L145.52 627.5" fill="none" stroke="#2e2826" stroke-width="1.3"/><circle cx="157.5" cy="773.5" r="12.1" fill="#fefdfd" stroke="#2e2826" stroke-width="1.5"/><path d="M159.2 761.52L159.2 771.8L169.48 771.8M159.2 785.48L159.2 775.2L169.48 775.2M155.8 785.48L155.8 775.2L145.52 775.2M155.8 761.52L155.8 771.8L145.52 771.8" fill="none" stroke="#2e2826" stroke-width="1.3"/><circle cx="197.8" cy="629.2" r="12.1" fill="#fefdfd" stroke="#2e2826" stroke-width="1.5"/><path d="M199.5 617.22L199.5 627.5L209.78 627.5M199.5 641.18L199.5 630.9L209.78 630.9M196.1 641.18L196.1 630.9L185.82 630.9M196.1 617.22L196.1 627.5L185.82 627.5" fill="none" stroke="#2e2826" stroke-width="1.3"/><circle cx="197.8" cy="773.5" r="12.1" fill="#fefdfd" stroke="#2e2826" stroke-width="1.5"/><path d="M199.5 761.52L199.5 771.8L209.78 771.8M199.5 785.48L199.5 775.2L209.78 775.2M196.1 785.48L196.1 775.2L185.82 775.2M196.1 761.52L196.1 771.8L185.82 771.8" fill="none" stroke="#2e2826" stroke-width="1.3"/><circle cx="238.2" cy="629.2" r="12.1" fill="#fefdfd" stroke="#2e2826" stroke-width="1.5"/><path d="M239.9 617.22L239.9 627.5L250.18 627.5M239.9 641.18L239.9 630.9L250.18 630.9M236.5 641.18L236.5 630.9L226.22 630.9M236.5 617.22L236.5 627.5L226.22 627.5" fill="none" stroke="#2e2826" stroke-width="1.3"/><circle cx="238.2" cy="773.5" r="12.1" fill="#fefdfd" stroke="#2e2826" stroke-width="1.5"/><path d="M239.9 761.52L239.9 771.8L250.18 771.8M239.9 785.48L239.9 775.2L250.18 775.2M236.5 785.48L236.5 775.2L226.22 775.2M236.5 761.52L236.5 771.8L226.22 771.8" fill="none" stroke="#2e2826" stroke-width="1.3"/><circle cx="278.4" cy="629.2" r="12.1" fill="#fefdfd" stroke="#2e2826" stroke-width="1.5"/><path d="M280.1 617.22L280.1 627.5L290.38 627.5M280.1 641.18L280.1 630.9L290.38 630.9M276.7 641.18L276.7 630.9L266.42 630.9M276.7 617.22L276.7 627.5L266.42 627.5" fill="none" stroke="#2e2826" stroke-width="1.3"/><circle cx="278.4" cy="773.5" r="12.1" fill="#fefdfd" stroke="#2e2826" stroke-width="1.5"/><path d="M280.1 761.52L280.1 771.8L290.38 771.8M280.1 785.48L280.1 775.2L290.38 775.2M276.7 785.48L276.7 775.2L266.42 775.2M276.7 761.52L276.7 771.8L266.42 771.8" fill="none" stroke="#2e2826" stroke-width="1.3"/><text transform="translate(160.5 604.4) scale(0.8 1)" x="0 7.75" y="0" text-anchor="middle" font-size="12.6" fill="#231815" stroke="#231815" stroke-width="0.4">A1</text><text transform="translate(268.7 604.4) scale(0.8 1)" x="0 7.75" y="0" text-anchor="middle" font-size="12.6" fill="#231815" stroke="#231815" stroke-width="0.4">A2</text><text transform="translate(147.85 655.3) scale(0.8 1)" x="0 7.62 15.25 22.87" y="0" text-anchor="middle" font-size="12.6" fill="#231815" stroke="#231815" stroke-width="0.4">1/L1</text><text transform="translate(188.35 655.3) scale(0.8 1)" x="0 7.62 15.25 22.87" y="0" text-anchor="middle" font-size="12.6" fill="#231815" stroke="#231815" stroke-width="0.4">3/L2</text><text transform="translate(230.05 655.3) scale(0.8 1)" x="0 7.62 15.25 22.87" y="0" text-anchor="middle" font-size="12.6" fill="#231815" stroke="#231815" stroke-width="0.4">5/L3</text><text transform="translate(267.5 655.3) scale(0.8 1)" x="0 7.62 15.25 22.87 30.5" y="0" text-anchor="middle" font-size="12.6" fill="#231815" stroke="#231815" stroke-width="0.4">13/NO</text><text transform="translate(144.85 754.4) scale(0.8 1)" x="0 7.62 15.25 22.87" y="0" text-anchor="middle" font-size="12.2" fill="#231815" stroke="#231815" stroke-width="0.4">2/T1</text><text transform="translate(185.35 754.4) scale(0.8 1)" x="0 7.62 15.25 22.87" y="0" text-anchor="middle" font-size="12.2" fill="#231815" stroke="#231815" stroke-width="0.4">4/T2</text><text transform="translate(226.85 754.4) scale(0.8 1)" x="0 7.62 15.25 22.87" y="0" text-anchor="middle" font-size="12.2" fill="#231815" stroke="#231815" stroke-width="0.4">6/T3</text><text transform="translate(264.8 754.4) scale(0.8 1)" x="0 7.62 15.25 22.87 30.5" y="0" text-anchor="middle" font-size="12.2" fill="#231815" stroke="#231815" stroke-width="0.4">14/NO</text><text x="205" y="680.6" font-size="18.2" fill="#3a3a3a" text-anchor="middle" font-family='"Liberation Serif", "Noto Serif CJK SC", serif'>交流接触器</text><rect x="388.9" y="482.2" width="181.7" height="312.8" fill="none" stroke="#2e2826" stroke-width="1.6"/><rect x="388.9" y="496.3" width="41.8" height="20.5" fill="none" stroke="#2e2826" stroke-width="1.5"/><line x1="404.7" y1="496.3" x2="404.7" y2="516.8" stroke="#2e2826" stroke-width="1.5"/><line x1="409.5" y1="496.3" x2="409.5" y2="516.8" stroke="#2e2826" stroke-width="1.5"/><circle cx="420.1" cy="506.55" r="9.9" fill="#fefdfd" stroke="#2e2826" stroke-width="1.5"/><path d="M421.6 496.76L421.6 505.05L429.89 505.05M421.6 516.34L421.6 508.05L429.89 508.05M418.6 516.34L418.6 508.05L410.31 508.05M418.6 496.76L418.6 505.05L410.31 505.05" fill="none" stroke="#2e2826" stroke-width="1.1"/><text transform="translate(397.1 512.1) scale(0.92 1)" font-size="12" fill="#231815" font-weight="bold" text-anchor="middle">1</text><rect x="388.9" y="520.8" width="41.8" height="20.5" fill="none" stroke="#2e2826" stroke-width="1.5"/><line x1="404.7" y1="520.8" x2="404.7" y2="541.3" stroke="#2e2826" stroke-width="1.5"/><line x1="409.5" y1="520.8" x2="409.5" y2="541.3" stroke="#2e2826" stroke-width="1.5"/><circle cx="420.1" cy="531.05" r="9.9" fill="#fefdfd" stroke="#2e2826" stroke-width="1.5"/><path d="M421.6 521.26L421.6 529.55L429.89 529.55M421.6 540.84L421.6 532.55L429.89 532.55M418.6 540.84L418.6 532.55L410.31 532.55M418.6 521.26L418.6 529.55L410.31 529.55" fill="none" stroke="#2e2826" stroke-width="1.1"/><text transform="translate(397.1 536.2) scale(0.92 1)" font-size="12" fill="#231815" font-weight="bold" text-anchor="middle">2</text><rect x="388.9" y="545.3" width="41.8" height="20.5" fill="none" stroke="#2e2826" stroke-width="1.5"/><line x1="404.7" y1="545.3" x2="404.7" y2="565.8" stroke="#2e2826" stroke-width="1.5"/><line x1="409.5" y1="545.3" x2="409.5" y2="565.8" stroke="#2e2826" stroke-width="1.5"/><circle cx="420.1" cy="555.55" r="9.9" fill="#fefdfd" stroke="#2e2826" stroke-width="1.5"/><path d="M421.6 545.76L421.6 554.05L429.89 554.05M421.6 565.34L421.6 557.05L429.89 557.05M418.6 565.34L418.6 557.05L410.31 557.05M418.6 545.76L418.6 554.05L410.31 554.05" fill="none" stroke="#2e2826" stroke-width="1.1"/><text transform="translate(397.1 560.3) scale(0.92 1)" font-size="12" fill="#231815" font-weight="bold" text-anchor="middle">3</text><rect x="388.9" y="569.8" width="41.8" height="20.5" fill="none" stroke="#2e2826" stroke-width="1.5"/><line x1="404.7" y1="569.8" x2="404.7" y2="590.3" stroke="#2e2826" stroke-width="1.5"/><line x1="409.5" y1="569.8" x2="409.5" y2="590.3" stroke="#2e2826" stroke-width="1.5"/><circle cx="420.1" cy="580.05" r="9.9" fill="#fefdfd" stroke="#2e2826" stroke-width="1.5"/><path d="M421.6 570.26L421.6 578.55L429.89 578.55M421.6 589.84L421.6 581.55L429.89 581.55M418.6 589.84L418.6 581.55L410.31 581.55M418.6 570.26L418.6 578.55L410.31 578.55" fill="none" stroke="#2e2826" stroke-width="1.1"/><text transform="translate(397.1 584.4) scale(0.92 1)" font-size="12" fill="#231815" font-weight="bold" text-anchor="middle">4</text><rect x="388.9" y="594.3" width="41.8" height="20.5" fill="none" stroke="#2e2826" stroke-width="1.5"/><line x1="404.7" y1="594.3" x2="404.7" y2="614.8" stroke="#2e2826" stroke-width="1.5"/><line x1="409.5" y1="594.3" x2="409.5" y2="614.8" stroke="#2e2826" stroke-width="1.5"/><circle cx="420.1" cy="604.55" r="9.9" fill="#fefdfd" stroke="#2e2826" stroke-width="1.5"/><path d="M421.6 594.76L421.6 603.05L429.89 603.05M421.6 614.34L421.6 606.05L429.89 606.05M418.6 614.34L418.6 606.05L410.31 606.05M418.6 594.76L418.6 603.05L410.31 603.05" fill="none" stroke="#2e2826" stroke-width="1.1"/><text transform="translate(397.1 608.5) scale(0.92 1)" font-size="12" fill="#231815" font-weight="bold" text-anchor="middle">5</text><rect x="388.9" y="618.8" width="41.8" height="20.5" fill="none" stroke="#2e2826" stroke-width="1.5"/><line x1="404.7" y1="618.8" x2="404.7" y2="639.3" stroke="#2e2826" stroke-width="1.5"/><line x1="409.5" y1="618.8" x2="409.5" y2="639.3" stroke="#2e2826" stroke-width="1.5"/><circle cx="420.1" cy="629.05" r="9.9" fill="#fefdfd" stroke="#2e2826" stroke-width="1.5"/><path d="M421.6 619.26L421.6 627.55L429.89 627.55M421.6 638.84L421.6 630.55L429.89 630.55M418.6 638.84L418.6 630.55L410.31 630.55M418.6 619.26L418.6 627.55L410.31 627.55" fill="none" stroke="#2e2826" stroke-width="1.1"/><text transform="translate(397.1 632.6) scale(0.92 1)" font-size="12" fill="#231815" font-weight="bold" text-anchor="middle">6</text><rect x="388.9" y="643.3" width="41.8" height="20.5" fill="none" stroke="#2e2826" stroke-width="1.5"/><line x1="404.7" y1="643.3" x2="404.7" y2="663.8" stroke="#2e2826" stroke-width="1.5"/><line x1="409.5" y1="643.3" x2="409.5" y2="663.8" stroke="#2e2826" stroke-width="1.5"/><circle cx="420.1" cy="653.55" r="9.9" fill="#fefdfd" stroke="#2e2826" stroke-width="1.5"/><path d="M421.6 643.76L421.6 652.05L429.89 652.05M421.6 663.34L421.6 655.05L429.89 655.05M418.6 663.34L418.6 655.05L410.31 655.05M418.6 643.76L418.6 652.05L410.31 652.05" fill="none" stroke="#2e2826" stroke-width="1.1"/><text transform="translate(397.1 656.7) scale(0.92 1)" font-size="12" fill="#231815" font-weight="bold" text-anchor="middle">7</text><rect x="388.9" y="667.8" width="41.8" height="20.5" fill="none" stroke="#2e2826" stroke-width="1.5"/><line x1="404.7" y1="667.8" x2="404.7" y2="688.3" stroke="#2e2826" stroke-width="1.5"/><line x1="409.5" y1="667.8" x2="409.5" y2="688.3" stroke="#2e2826" stroke-width="1.5"/><circle cx="420.1" cy="678.05" r="9.9" fill="#fefdfd" stroke="#2e2826" stroke-width="1.5"/><path d="M421.6 668.26L421.6 676.55L429.89 676.55M421.6 687.84L421.6 679.55L429.89 679.55M418.6 687.84L418.6 679.55L410.31 679.55M418.6 668.26L418.6 676.55L410.31 676.55" fill="none" stroke="#2e2826" stroke-width="1.1"/><text transform="translate(397.1 680.8) scale(0.92 1)" font-size="12" fill="#231815" font-weight="bold" text-anchor="middle">8</text><rect x="388.9" y="692.3" width="41.8" height="20.5" fill="none" stroke="#2e2826" stroke-width="1.5"/><line x1="404.7" y1="692.3" x2="404.7" y2="712.8" stroke="#2e2826" stroke-width="1.5"/><line x1="409.5" y1="692.3" x2="409.5" y2="712.8" stroke="#2e2826" stroke-width="1.5"/><circle cx="420.1" cy="702.55" r="9.9" fill="#fefdfd" stroke="#2e2826" stroke-width="1.5"/><path d="M421.6 692.76L421.6 701.05L429.89 701.05M421.6 712.34L421.6 704.05L429.89 704.05M418.6 712.34L418.6 704.05L410.31 704.05M418.6 692.76L418.6 701.05L410.31 701.05" fill="none" stroke="#2e2826" stroke-width="1.1"/><text transform="translate(397.1 704.9) scale(0.92 1)" font-size="12" fill="#231815" font-weight="bold" text-anchor="middle">9</text><rect x="388.9" y="716.8" width="41.8" height="20.5" fill="none" stroke="#2e2826" stroke-width="1.5"/><line x1="404.7" y1="716.8" x2="404.7" y2="737.3" stroke="#2e2826" stroke-width="1.5"/><line x1="409.5" y1="716.8" x2="409.5" y2="737.3" stroke="#2e2826" stroke-width="1.5"/><circle cx="420.1" cy="727.05" r="9.9" fill="#fefdfd" stroke="#2e2826" stroke-width="1.5"/><path d="M421.6 717.26L421.6 725.55L429.89 725.55M421.6 736.84L421.6 728.55L429.89 728.55M418.6 736.84L418.6 728.55L410.31 728.55M418.6 717.26L418.6 725.55L410.31 725.55" fill="none" stroke="#2e2826" stroke-width="1.1"/><text transform="translate(397.1 729) scale(0.82 1)" font-size="12" fill="#231815" font-weight="bold" text-anchor="middle">10</text><rect x="388.9" y="741.3" width="41.8" height="20.5" fill="none" stroke="#2e2826" stroke-width="1.5"/><line x1="404.7" y1="741.3" x2="404.7" y2="761.8" stroke="#2e2826" stroke-width="1.5"/><line x1="409.5" y1="741.3" x2="409.5" y2="761.8" stroke="#2e2826" stroke-width="1.5"/><circle cx="420.1" cy="751.55" r="9.9" fill="#fefdfd" stroke="#2e2826" stroke-width="1.5"/><path d="M421.6 741.76L421.6 750.05L429.89 750.05M421.6 761.34L421.6 753.05L429.89 753.05M418.6 761.34L418.6 753.05L410.31 753.05M418.6 741.76L418.6 750.05L410.31 750.05" fill="none" stroke="#2e2826" stroke-width="1.1"/><text transform="translate(397.1 753.1) scale(0.82 1)" font-size="12" fill="#231815" font-weight="bold" text-anchor="middle">11</text><rect x="388.9" y="765.8" width="41.8" height="20.5" fill="none" stroke="#2e2826" stroke-width="1.5"/><line x1="404.7" y1="765.8" x2="404.7" y2="786.3" stroke="#2e2826" stroke-width="1.5"/><line x1="409.5" y1="765.8" x2="409.5" y2="786.3" stroke="#2e2826" stroke-width="1.5"/><circle cx="420.1" cy="776.05" r="9.9" fill="#fefdfd" stroke="#2e2826" stroke-width="1.5"/><path d="M421.6 766.26L421.6 774.55L429.89 774.55M421.6 785.84L421.6 777.55L429.89 777.55M418.6 785.84L418.6 777.55L410.31 777.55M418.6 766.26L418.6 774.55L410.31 774.55" fill="none" stroke="#2e2826" stroke-width="1.1"/><text transform="translate(397.1 780.4) scale(0.82 1)" font-size="12" fill="#231815" font-weight="bold" text-anchor="middle">12</text><text transform="translate(436.3 576.2) scale(0.9 1)" x="0 7.22 14.44 21.67 28.89" y="0" text-anchor="middle" font-size="10" fill="#231815" stroke="#231815" stroke-width="0.3">mAin+</text><text transform="translate(434.4 600.8) scale(0.82 1)" x="0 7.07 14.15 21.22 28.29 35.37" y="0" text-anchor="middle" font-size="10.6" fill="#231815" stroke="#231815" stroke-width="0.3">DC24V+</text><path d="M388.4 814.9L388.4 807.1L396.2 807.1" fill="none" stroke="#898989" stroke-width="1.3"/><path d="M602.5 807.1L610.3 807.1L610.3 814.9" fill="none" stroke="#898989" stroke-width="1.3"/><path d="M388.4 959.2L388.4 967L396.2 967" fill="none" stroke="#898989" stroke-width="1.3"/><path d="M602.5 967L610.3 967L610.3 959.2" fill="none" stroke="#898989" stroke-width="1.3"/><line x1="412.7" y1="807.1" x2="428" y2="807.1" stroke="#898989" stroke-width="1.3"/><line x1="412.7" y1="967" x2="428" y2="967" stroke="#898989" stroke-width="1.3"/><line x1="444.25" y1="807.1" x2="459.55" y2="807.1" stroke="#898989" stroke-width="1.3"/><line x1="444.25" y1="967" x2="459.55" y2="967" stroke="#898989" stroke-width="1.3"/><line x1="475.8" y1="807.1" x2="491.1" y2="807.1" stroke="#898989" stroke-width="1.3"/><line x1="475.8" y1="967" x2="491.1" y2="967" stroke="#898989" stroke-width="1.3"/><line x1="507.35" y1="807.1" x2="522.65" y2="807.1" stroke="#898989" stroke-width="1.3"/><line x1="507.35" y1="967" x2="522.65" y2="967" stroke="#898989" stroke-width="1.3"/><line x1="538.9" y1="807.1" x2="554.2" y2="807.1" stroke="#898989" stroke-width="1.3"/><line x1="538.9" y1="967" x2="554.2" y2="967" stroke="#898989" stroke-width="1.3"/><line x1="570.45" y1="807.1" x2="585.75" y2="807.1" stroke="#898989" stroke-width="1.3"/><line x1="570.45" y1="967" x2="585.75" y2="967" stroke="#898989" stroke-width="1.3"/><line x1="388.4" y1="831.5" x2="388.4" y2="846.7" stroke="#898989" stroke-width="1.3"/><line x1="610.3" y1="831.5" x2="610.3" y2="846.7" stroke="#898989" stroke-width="1.3"/><line x1="388.4" y1="863.6" x2="388.4" y2="878.8" stroke="#898989" stroke-width="1.3"/><line x1="610.3" y1="863.6" x2="610.3" y2="878.8" stroke="#898989" stroke-width="1.3"/><line x1="388.4" y1="895.7" x2="388.4" y2="910.9" stroke="#898989" stroke-width="1.3"/><line x1="610.3" y1="895.7" x2="610.3" y2="910.9" stroke="#898989" stroke-width="1.3"/><line x1="388.4" y1="927.8" x2="388.4" y2="943" stroke="#898989" stroke-width="1.3"/><line x1="610.3" y1="927.8" x2="610.3" y2="943" stroke="#898989" stroke-width="1.3"/><text x="399" y="825.2" font-size="13" fill="#231815">电流输入</text><line x1="398.2" y1="832.7" x2="439" y2="832.7" stroke="#2e2826" stroke-width="1.5"/><line x1="398.2" y1="852.4" x2="439" y2="852.4" stroke="#2e2826" stroke-width="1.5"/><line x1="439" y1="832.7" x2="439" y2="852.4" stroke="#2e2826" stroke-width="1.5"/><line x1="413.7" y1="832.7" x2="413.7" y2="852.4" stroke="#2e2826" stroke-width="1.5"/><line x1="419.2" y1="832.7" x2="419.2" y2="852.4" stroke="#2e2826" stroke-width="1.5"/><circle cx="429.1" cy="842.55" r="9.9" fill="#fefdfd" stroke="#2e2826" stroke-width="1.5"/><path d="M430.6 832.76L430.6 841.05L438.89 841.05M430.6 852.34L430.6 844.05L438.89 844.05M427.6 852.34L427.6 844.05L419.31 844.05M427.6 832.76L427.6 841.05L419.31 841.05" fill="none" stroke="#2e2826" stroke-width="1.1"/><text transform="translate(408.05 846.85) scale(0.92 1)" font-size="12" fill="#231815" font-weight="bold" text-anchor="middle">3</text><line x1="398.2" y1="855.8" x2="439" y2="855.8" stroke="#2e2826" stroke-width="1.5"/><line x1="398.2" y1="875.5" x2="439" y2="875.5" stroke="#2e2826" stroke-width="1.5"/><line x1="439" y1="855.8" x2="439" y2="875.5" stroke="#2e2826" stroke-width="1.5"/><line x1="413.7" y1="855.8" x2="413.7" y2="875.5" stroke="#2e2826" stroke-width="1.5"/><line x1="419.2" y1="855.8" x2="419.2" y2="875.5" stroke="#2e2826" stroke-width="1.5"/><circle cx="429.1" cy="865.65" r="9.9" fill="#fefdfd" stroke="#2e2826" stroke-width="1.5"/><path d="M430.6 855.86L430.6 864.15L438.89 864.15M430.6 875.44L430.6 867.15L438.89 867.15M427.6 875.44L427.6 867.15L419.31 867.15M427.6 855.86L427.6 864.15L419.31 864.15" fill="none" stroke="#2e2826" stroke-width="1.1"/><text transform="translate(408.05 869.95) scale(0.92 1)" font-size="12" fill="#231815" font-weight="bold" text-anchor="middle">4</text><line x1="439" y1="842.6" x2="459.4" y2="842.6" stroke="#2e2826" stroke-width="1.2"/><circle cx="461.6" cy="842.6" r="2.1" fill="#fff" stroke="#2e2826" stroke-width="1.1"/><line x1="439" y1="865" x2="459.4" y2="865" stroke="#2e2826" stroke-width="1.2"/><circle cx="461.6" cy="865" r="2.1" fill="#fff" stroke="#2e2826" stroke-width="1.1"/><text x="447.1" y="841.2" font-size="12.5" fill="#231815" text-anchor="middle" font-weight="bold">−</text><text x="447.1" y="875.4" font-size="12.5" fill="#231815" text-anchor="middle" font-weight="bold">+</text><text transform="translate(462.75 857.2) scale(0.9 1)" x="0 7.44 14.89 22.33" y="0" text-anchor="middle" font-size="10" fill="#231815" stroke="#231815" stroke-width="0.3">mAin</text><text x="398.4" y="903.4" font-size="13" fill="#231815">配电输出</text><line x1="399.2" y1="909.6" x2="440.8" y2="909.6" stroke="#2e2826" stroke-width="1.5"/><line x1="399.2" y1="929.4" x2="440.8" y2="929.4" stroke="#2e2826" stroke-width="1.5"/><line x1="440.8" y1="909.6" x2="440.8" y2="929.4" stroke="#2e2826" stroke-width="1.5"/><line x1="414.6" y1="909.6" x2="414.6" y2="929.4" stroke="#2e2826" stroke-width="1.5"/><line x1="420.6" y1="909.6" x2="420.6" y2="929.4" stroke="#2e2826" stroke-width="1.5"/><circle cx="430.7" cy="919.5" r="9.9" fill="#fefdfd" stroke="#2e2826" stroke-width="1.5"/><path d="M432.2 909.71L432.2 918L440.49 918M432.2 929.29L432.2 921L440.49 921M429.2 929.29L429.2 921L420.91 921M429.2 909.71L429.2 918L420.91 918" fill="none" stroke="#2e2826" stroke-width="1.1"/><text transform="translate(409 923.8) scale(0.92 1)" font-size="12" fill="#231815" font-weight="bold" text-anchor="middle">3</text><line x1="399.2" y1="933.6" x2="440.8" y2="933.6" stroke="#2e2826" stroke-width="1.5"/><line x1="399.2" y1="953.8" x2="440.8" y2="953.8" stroke="#2e2826" stroke-width="1.5"/><line x1="440.8" y1="933.6" x2="440.8" y2="953.8" stroke="#2e2826" stroke-width="1.5"/><line x1="414.6" y1="933.6" x2="414.6" y2="953.8" stroke="#2e2826" stroke-width="1.5"/><line x1="420.6" y1="933.6" x2="420.6" y2="953.8" stroke="#2e2826" stroke-width="1.5"/><circle cx="430.7" cy="943.7" r="9.9" fill="#fefdfd" stroke="#2e2826" stroke-width="1.5"/><path d="M432.2 933.91L432.2 942.2L440.49 942.2M432.2 953.49L432.2 945.2L440.49 945.2M429.2 953.49L429.2 945.2L420.91 945.2M429.2 933.91L429.2 942.2L420.91 942.2" fill="none" stroke="#2e2826" stroke-width="1.1"/><text transform="translate(409 948) scale(0.92 1)" font-size="12" fill="#231815" font-weight="bold" text-anchor="middle">5</text><line x1="440.8" y1="921" x2="459.6" y2="921" stroke="#2e2826" stroke-width="1.2"/><circle cx="461.8" cy="921" r="2.1" fill="#fff" stroke="#2e2826" stroke-width="1.1"/><line x1="440.8" y1="943" x2="459.6" y2="943" stroke="#2e2826" stroke-width="1.2"/><circle cx="461.8" cy="943" r="2.1" fill="#fff" stroke="#2e2826" stroke-width="1.1"/><text x="448.7" y="919.7" font-size="12.5" fill="#231815" text-anchor="middle" font-weight="bold">−</text><text x="448.7" y="954.2" font-size="12.5" fill="#231815" text-anchor="middle" font-weight="bold">+</text><text transform="translate(462.5 937.8) scale(0.85 1)" x="0 7.76 15.53 23.29 31.06" y="0" text-anchor="middle" font-size="11.2" fill="#231815" stroke="#231815" stroke-width="0.3">DC24V</text><text x="505.8" y="825.2" font-size="13" fill="#231815">报警输出<tspan dx="1.6">(</tspan>常开<tspan dx="0.2">)</tspan></text><line x1="505.3" y1="833.7" x2="543.6" y2="833.7" stroke="#2e2826" stroke-width="1.5"/><line x1="505.3" y1="852.3" x2="543.6" y2="852.3" stroke="#2e2826" stroke-width="1.5"/><line x1="543.6" y1="833.7" x2="543.6" y2="852.3" stroke="#2e2826" stroke-width="1.5"/><line x1="519.3" y1="833.7" x2="519.3" y2="852.3" stroke="#2e2826" stroke-width="1.5"/><line x1="524.6" y1="833.7" x2="524.6" y2="852.3" stroke="#2e2826" stroke-width="1.5"/><circle cx="534.1" cy="843" r="9.4" fill="#fefdfd" stroke="#2e2826" stroke-width="1.5"/><path d="M535.6 833.72L535.6 841.5L543.38 841.5M535.6 852.28L535.6 844.5L543.38 844.5M532.6 852.28L532.6 844.5L524.82 844.5M532.6 833.72L532.6 841.5L524.82 841.5" fill="none" stroke="#2e2826" stroke-width="1.1"/><text transform="translate(512.1 847.3) scale(0.92 1)" font-size="12" fill="#231815" font-weight="bold" text-anchor="middle">9</text><line x1="505.3" y1="855" x2="543.6" y2="855" stroke="#2e2826" stroke-width="1.5"/><line x1="505.3" y1="874" x2="543.6" y2="874" stroke="#2e2826" stroke-width="1.5"/><line x1="543.6" y1="855" x2="543.6" y2="874" stroke="#2e2826" stroke-width="1.5"/><line x1="519.3" y1="855" x2="519.3" y2="874" stroke="#2e2826" stroke-width="1.5"/><line x1="524.6" y1="855" x2="524.6" y2="874" stroke="#2e2826" stroke-width="1.5"/><circle cx="534.1" cy="864.5" r="9.4" fill="#fefdfd" stroke="#2e2826" stroke-width="1.5"/><path d="M535.6 855.22L535.6 863L543.38 863M535.6 873.78L535.6 866L543.38 866M532.6 873.78L532.6 866L524.82 866M532.6 855.22L532.6 863L524.82 863" fill="none" stroke="#2e2826" stroke-width="1.1"/><text transform="translate(512.5 868.8) scale(0.82 1)" font-size="12" fill="#231815" font-weight="bold" text-anchor="middle">10</text><line x1="543.6" y1="842.1" x2="563" y2="842.1" stroke="#2e2826" stroke-width="1.2"/><circle cx="564.9" cy="842.1" r="1.9" fill="#fff" stroke="#2e2826" stroke-width="1.1"/><line x1="566.2" y1="843.4" x2="576.4" y2="851.8" stroke="#2e2826" stroke-width="1.2"/><circle cx="569.5" cy="852.4" r="1.9" fill="#fff" stroke="#2e2826" stroke-width="1.1"/><path d="M569.5 854.4L569.5 864.6L543.6 864.6" fill="none" stroke="#2e2826" stroke-width="1.2"/><text transform="translate(551.8 856.7) scale(0.78 1)" font-size="10.2" fill="#231815">NO</text><text transform="translate(578.4 858.6) scale(0.88 1)" font-size="12" fill="#231815">AL2</text><text x="506.4" y="899.8" font-size="13" fill="#231815">工作电源</text><line x1="508.2" y1="908.6" x2="548.2" y2="908.6" stroke="#2e2826" stroke-width="1.5"/><line x1="508.2" y1="927.6" x2="548.2" y2="927.6" stroke="#2e2826" stroke-width="1.5"/><line x1="548.2" y1="908.6" x2="548.2" y2="927.6" stroke="#2e2826" stroke-width="1.5"/><line x1="523.6" y1="908.6" x2="523.6" y2="927.6" stroke="#2e2826" stroke-width="1.5"/><line x1="528.7" y1="908.6" x2="528.7" y2="927.6" stroke="#2e2826" stroke-width="1.5"/><circle cx="538.45" cy="918.1" r="9.5" fill="#fefdfd" stroke="#2e2826" stroke-width="1.5"/><path d="M539.95 908.72L539.95 916.6L547.83 916.6M539.95 927.48L539.95 919.6L547.83 919.6M536.95 927.48L536.95 919.6L529.07 919.6M536.95 908.72L536.95 916.6L529.07 916.6" fill="none" stroke="#2e2826" stroke-width="1.1"/><text transform="translate(515.2 922.4) scale(0.82 1)" font-size="12" fill="#231815" font-weight="bold" text-anchor="middle">11</text><line x1="508.2" y1="931.4" x2="548.2" y2="931.4" stroke="#2e2826" stroke-width="1.5"/><line x1="508.2" y1="950.7" x2="548.2" y2="950.7" stroke="#2e2826" stroke-width="1.5"/><line x1="548.2" y1="931.4" x2="548.2" y2="950.7" stroke="#2e2826" stroke-width="1.5"/><line x1="523.6" y1="931.4" x2="523.6" y2="950.7" stroke="#2e2826" stroke-width="1.5"/><line x1="528.7" y1="931.4" x2="528.7" y2="950.7" stroke="#2e2826" stroke-width="1.5"/><circle cx="538.45" cy="941.05" r="9.5" fill="#fefdfd" stroke="#2e2826" stroke-width="1.5"/><path d="M539.95 931.67L539.95 939.55L547.83 939.55M539.95 950.43L539.95 942.55L547.83 942.55M536.95 950.43L536.95 942.55L529.07 942.55M536.95 931.67L536.95 939.55L529.07 939.55" fill="none" stroke="#2e2826" stroke-width="1.1"/><text transform="translate(515.2 945.35) scale(0.82 1)" font-size="12" fill="#231815" font-weight="bold" text-anchor="middle">12</text><line x1="548.2" y1="919.5" x2="568.3" y2="919.5" stroke="#2e2826" stroke-width="1.2"/><circle cx="570.5" cy="919.5" r="2.2" fill="#fff" stroke="#2e2826" stroke-width="1.1"/><line x1="548.2" y1="941.5" x2="568.3" y2="941.5" stroke="#2e2826" stroke-width="1.2"/><circle cx="570.5" cy="941.5" r="2.2" fill="#fff" stroke="#2e2826" stroke-width="1.1"/><text transform="translate(556.3 917.4) scale(0.8 1)" font-size="10" fill="#231815" font-weight="bold">N</text><text transform="translate(557.2 952.7) scale(0.85 1)" font-size="10.6" fill="#231815" font-weight="bold">L</text><rect x="187.6" y="853.4" width="26" height="13.6" fill="#fdfbfc" stroke="#2e2826" stroke-width="1.2"/><rect x="142" y="867.1" width="116.6" height="77.5" fill="#fdfbfc" stroke="#2e2826" stroke-width="1.8" rx="7"/><path d="M151.6 867.8L151.6 944" fill="none" stroke="#3a3330" stroke-width="1.3"/><path d="M151.6 870.4L254.8 870.4L254.8 941L151.6 941" fill="none" stroke="#3a3330" stroke-width="1.2"/><line x1="165.3" y1="877.1" x2="241.3" y2="877.1" stroke="#4a4441" stroke-width="1.2"/><line x1="165.3" y1="885.3" x2="241.3" y2="885.3" stroke="#4a4441" stroke-width="1.2"/><line x1="165.3" y1="896" x2="241.3" y2="896" stroke="#4a4441" stroke-width="1.2"/><line x1="165.3" y1="906.6" x2="241.3" y2="906.6" stroke="#4a4441" stroke-width="1.2"/><line x1="165.3" y1="917.3" x2="241.3" y2="917.3" stroke="#4a4441" stroke-width="1.2"/><line x1="165.3" y1="927.9" x2="241.3" y2="927.9" stroke="#4a4441" stroke-width="1.2"/><line x1="165.3" y1="936.1" x2="241.3" y2="936.1" stroke="#4a4441" stroke-width="1.2"/><rect x="260.3" y="889.3" width="2.9" height="37.1" fill="none" stroke="#2e2826" stroke-width="1.1"/><rect x="260.3" y="904.5" width="15.4" height="7.6" fill="#fdfbfc" stroke="#2e2826" stroke-width="1.1"/><path d="M163.8 947L242.9 947L246.5 955.9L160.8 955.9Z" fill="none" stroke="#2e2826" stroke-width="1.2"/><text x="168.8" y="976" font-size="15.5" fill="#231815">负载<tspan dx="2.6">:</tspan><tspan dx="2.1">水泵</tspan></text><path d="M102.8 395.4L102.8 634.6L151.8 634.6" fill="none" stroke="#e60012" stroke-width="2"/><path d="M157.9 574.8L157.9 479L349 479L349 731.8L416.2 731.8" fill="none" stroke="#e60012" stroke-width="2"/><path d="M368.6 395.4L368.6 708L450.5 708L450.5 781.2L424.3 781.2" fill="none" stroke="#e60012" stroke-width="2"/><path d="M202.1 428.2L202.1 623.6" fill="none" stroke="#231815" stroke-width="2"/><path d="M266.5 428.2L266.5 575" fill="none" stroke="#231815" stroke-width="2"/><path d="M266.5 513.8L332.1 513.8L332.1 756.4L415.2 756.4" fill="none" stroke="#231815" stroke-width="1.9"/><path d="M163.2 778.4L163.2 810.8L193 810.8L193 858" fill="none" stroke="#e60012" stroke-width="2"/><path d="M203.3 778.4L203.3 858" fill="none" stroke="#231815" stroke-width="2"/><circle cx="102.8" cy="396" r="5.2" fill="#e60012" stroke="none" stroke-width="0"/><circle cx="368.4" cy="396" r="5.2" fill="#e60012" stroke="none" stroke-width="0"/><circle cx="202.3" cy="428.3" r="5" fill="#231815" stroke="none" stroke-width="0"/><circle cx="266.5" cy="428.3" r="5" fill="#231815" stroke="none" stroke-width="0"/><circle cx="266.5" cy="513.8" r="5" fill="#231815" stroke="none" stroke-width="0"/><circle cx="419.5" cy="708.3" r="4.6" fill="#e60012" stroke="none" stroke-width="0"/>
</g>
<g id="s2">
<text x="623.2" y="1266.2" font-size="15.3" fill="#231815">L2液位变送器</text><path d="M613.7 1276.8L734.7 1276.8L734.7 1285.7L744.3 1285.7L744.3 1335.3L604.5 1335.3L604.5 1285.7L613.7 1285.7Z" fill="#fdfbfc" stroke="#2e2826" stroke-width="1.6"/><line x1="628.5" y1="1276.8" x2="617.4" y2="1291.8" stroke="#2e2826" stroke-width="1.6"/><line x1="721.8" y1="1276.8" x2="732.1" y2="1291.8" stroke="#2e2826" stroke-width="1.6"/><rect x="648" y="1400" width="55.9" height="37.2" fill="#fdfbfc" stroke="#2e2826" stroke-width="1.6"/><path d="M648 1401.4L630.4 1401.4L630.4 1412.5L633.5 1412.5L633.5 1427.7L648 1427.7" fill="#fdfbfc" stroke="#2e2826" stroke-width="1.6"/><circle cx="638.1" cy="1423.2" r="2.4" fill="#fdfbfc" stroke="#2e2826" stroke-width="1.2"/><path d="M703.9 1427.7L716.6 1427.7L716.6 1420.6L713 1420.6L713 1403L703.9 1403" fill="#fdfbfc" stroke="#2e2826" stroke-width="1.6"/><rect x="713" y="1403" width="4.1" height="10" fill="#fdfbfc" stroke="#2e2826" stroke-width="1.3"/><circle cx="706.3" cy="1412.1" r="7.6" fill="#fdfbfc" stroke="#2e2826" stroke-width="2.0"/><circle cx="706.3" cy="1412.1" r="2.4" fill="#fdfbfc" stroke="#2e2826" stroke-width="1.2"/><rect x="637.1" y="1437.2" width="76.3" height="22.3" fill="#fdfbfc" stroke="#2e2826" stroke-width="1.6"/><rect x="643.6" y="1459.5" width="62.3" height="5.2" fill="#fdfbfc" stroke="#2e2826" stroke-width="1.6"/><rect x="656.7" y="1464.7" width="37.5" height="3.9" fill="#fdfbfc" stroke="#2e2826" stroke-width="1.6"/><rect x="651.7" y="1468.6" width="46.1" height="20.2" fill="#fdfbfc" stroke="#2e2826" stroke-width="1.6"/><line x1="674.6" y1="1468.6" x2="674.6" y2="1488.8" stroke="#2e2826" stroke-width="1.6"/><rect x="656.7" y="1488.8" width="37.1" height="30.4" fill="#fdfbfc" stroke="#2e2826" stroke-width="1.6"/><rect x="671.5" y="1519.2" width="5.1" height="3" fill="#fdfbfc" stroke="#2e2826" stroke-width="1.3"/><circle cx="675.5" cy="1349.5" r="62.8" fill="#fdfbfc" stroke="#2e2826" stroke-width="1.8"/><circle cx="675.3" cy="1349.8" r="53" fill="#fdfbfc" stroke="#2e2826" stroke-width="1.6"/><path d="M648.7 1304L648.7 1323.2L630 1323.2" fill="none" stroke="#2e2826" stroke-width="1.6"/><path d="M699.9 1304L699.9 1322.8L720.4 1322.8" fill="none" stroke="#2e2826" stroke-width="1.6"/><line x1="623.5" y1="1338.6" x2="727.1" y2="1338.6" stroke="#2e2826" stroke-width="1.6"/><line x1="627.45" y1="1372.6" x2="723.15" y2="1372.6" stroke="#2e2826" stroke-width="1.6"/><line x1="643.6" y1="1338.6" x2="643.6" y2="1372.6" stroke="#2e2826" stroke-width="1.4"/><line x1="659.8" y1="1338.6" x2="659.8" y2="1372.6" stroke="#2e2826" stroke-width="1.4"/><line x1="675.6" y1="1338.6" x2="675.6" y2="1372.6" stroke="#2e2826" stroke-width="1.4"/><line x1="689.8" y1="1338.6" x2="689.8" y2="1372.6" stroke="#2e2826" stroke-width="1.4"/><line x1="705.4" y1="1338.6" x2="705.4" y2="1372.6" stroke="#2e2826" stroke-width="1.4"/><circle cx="633.2" cy="1354.5" r="7" fill="#fdfbfc" stroke="#2e2826" stroke-width="1.4"/><circle cx="716.3" cy="1354.5" r="7" fill="#fdfbfc" stroke="#2e2826" stroke-width="1.4"/><circle cx="651.7" cy="1354.7" r="7.5" fill="#fefdfd" stroke="#2e2826" stroke-width="1.5"/><line x1="644.2" y1="1354.7" x2="659.2" y2="1354.7" stroke="#2e2826" stroke-width="1.2"/><line x1="651.7" y1="1347.2" x2="651.7" y2="1362.2" stroke="#2e2826" stroke-width="1.2"/><circle cx="667.3" cy="1354.7" r="7.5" fill="#fefdfd" stroke="#2e2826" stroke-width="1.5"/><line x1="659.8" y1="1354.7" x2="674.8" y2="1354.7" stroke="#2e2826" stroke-width="1.2"/><line x1="667.3" y1="1347.2" x2="667.3" y2="1362.2" stroke="#2e2826" stroke-width="1.2"/><circle cx="682.5" cy="1354.7" r="7.5" fill="#fefdfd" stroke="#2e2826" stroke-width="1.5"/><line x1="675" y1="1354.7" x2="690" y2="1354.7" stroke="#2e2826" stroke-width="1.2"/><line x1="682.5" y1="1347.2" x2="682.5" y2="1362.2" stroke="#2e2826" stroke-width="1.2"/><circle cx="697.9" cy="1354.7" r="7.5" fill="#fefdfd" stroke="#2e2826" stroke-width="1.5"/><line x1="690.4" y1="1354.7" x2="705.4" y2="1354.7" stroke="#2e2826" stroke-width="1.2"/><line x1="697.9" y1="1347.2" x2="697.9" y2="1362.2" stroke="#2e2826" stroke-width="1.2"/><text x="651.6" y="1383.2" font-size="14" fill="#231815" text-anchor="middle">+</text><text x="667" y="1383.2" font-size="14" fill="#231815" text-anchor="middle">−</text><text x="682.2" y="1383.2" font-size="14" fill="#231815" text-anchor="middle">+</text><text x="697.6" y="1383.2" font-size="14" fill="#231815" text-anchor="middle">−</text><text transform="translate(652.2 1394) scale(0.8 1)" font-size="9.6" fill="#231815" text-anchor="middle">A</text><text transform="translate(667.4 1394) scale(0.8 1)" font-size="9.6" fill="#231815" text-anchor="middle">B</text><text transform="translate(691.2 1394) scale(0.8 1)" font-size="9.6" fill="#231815" text-anchor="middle">A</text><path d="M681.6 1387.2L681.6 1392.6L687.6 1392.6" fill="none" stroke="#2e2826" stroke-width="1.0"/><path d="M694.8 1392.6L700.6 1392.6L700.6 1387.2" fill="none" stroke="#2e2826" stroke-width="1.0"/><path d="M680.3 1389L681.6 1386.6L682.9 1389" fill="none" stroke="#2e2826" stroke-width="0.9"/><path d="M699.3 1389L700.6 1386.6L701.9 1389" fill="none" stroke="#2e2826" stroke-width="0.9"/><line x1="417.4" y1="1324.5" x2="604.3" y2="1310.3" stroke="#0aa653" stroke-width="1.1"/><line x1="417.4" y1="1351.8" x2="604.3" y2="1319.9" stroke="#e4149a" stroke-width="1.1"/><path d="M648.7 1310.8L667.5 1310.8L667.5 1354.5" fill="none" stroke="#0aa653" stroke-width="1.6"/><path d="M648.7 1320.5L652.2 1320.5L652.2 1354.5" fill="none" stroke="#e4149a" stroke-width="1.6"/>
</g>
</svg>
</body>
</html>
